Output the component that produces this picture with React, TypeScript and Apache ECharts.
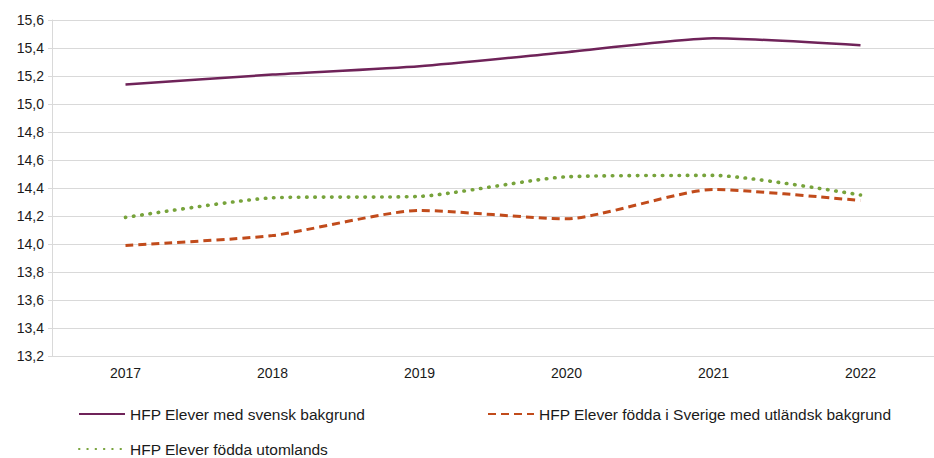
import React, { useEffect, useRef } from "react";
import * as echarts from "echarts";

const categories = ["2017", "2018", "2019", "2020", "2021", "2022"];
const seriesNames = [
  "HFP Elever med svensk bakgrund",
  "HFP Elever födda i Sverige med utländsk bakgrund",
  "HFP Elever födda utomlands",
];
const svensk = [15.14, 15.21, 15.27, 15.37, 15.47, 15.42];
const foddaSverige = [13.99, 14.06, 14.24, 14.18, 14.39, 14.31];
const utomlands = [14.19, 14.33, 14.34, 14.48, 14.49, 14.35];

export default function App() {
  const ref = useRef<HTMLDivElement>(null);
  useEffect(() => {
    if (!ref.current) return;
    const chart = echarts.init(ref.current, null, { renderer: "svg" });
    const font = "'Liberation Sans', Arial, sans-serif";
    const legendBase = {
      orient: "horizontal",
      itemWidth: 46,
      itemHeight: 14,
      itemGap: 5,
      padding: 0,
      itemStyle: { opacity: 0 },
      textStyle: { fontFamily: font, fontSize: 15.5, color: "#1a1a1a" },
      selectedMode: false,
    };
    chart.setOption({
      animation: false,
      grid: { left: 52, right: 0, top: 20, bottom: 102, containLabel: false },
      legend: [
        { ...legendBase, left: 78, top: 406, data: [seriesNames[0]] },
        { ...legendBase, left: 487, top: 406, data: [seriesNames[1]] },
        { ...legendBase, left: 78, top: 441, data: [seriesNames[2]] },
      ],
      xAxis: {
        type: "category",
        data: categories,
        boundaryGap: true,
        axisLine: { show: true, lineStyle: { color: "#d9d9d9", width: 1 } },
        axisTick: { show: false },
        axisLabel: { fontFamily: font, fontSize: 14, color: "#1a1a1a", margin: 10 },
      },
      yAxis: {
        type: "value",
        min: 13.2,
        max: 15.6,
        interval: 0.2,
        axisLine: { show: true, lineStyle: { color: "#d9d9d9", width: 1 } },
        axisTick: { show: true, length: 4, lineStyle: { color: "#d9d9d9" } },
        splitLine: { show: true, lineStyle: { color: "#d9d9d9", width: 1 } },
        axisLabel: {
          fontFamily: font,
          fontSize: 14,
          color: "#1a1a1a",
          margin: 8,
          formatter: (v: number) => v.toFixed(1).replace(".", ","),
        },
      },
      series: [
        {
          name: seriesNames[0],
          type: "line",
          data: svensk,
          symbol: "none",
          smooth: 0.2,
          itemStyle: { color: "#6f2359" },
          lineStyle: { color: "#6f2359", width: 2.5 },
        },
        {
          name: seriesNames[1],
          type: "line",
          data: foddaSverige,
          symbol: "none",
          smooth: 0.2,
          itemStyle: { color: "#c14b1b" },
          lineStyle: { color: "#c14b1b", width: 3, type: [8, 5], cap: "butt" },
        },
        {
          name: seriesNames[2],
          type: "line",
          data: utomlands,
          symbol: "none",
          smooth: 0.2,
          itemStyle: { color: "#77a33b" },
          lineStyle: { color: "#77a33b", width: 3.6, type: [0.5, 7.8], cap: "round" },
        },
      ],
    });
    return () => chart.dispose();
  }, []);
  return (
    <div
      ref={ref}
      style={{ position: "fixed", left: 0, top: 0, width: 934, height: 458, background: "#fff" }}
    />
  );
}
